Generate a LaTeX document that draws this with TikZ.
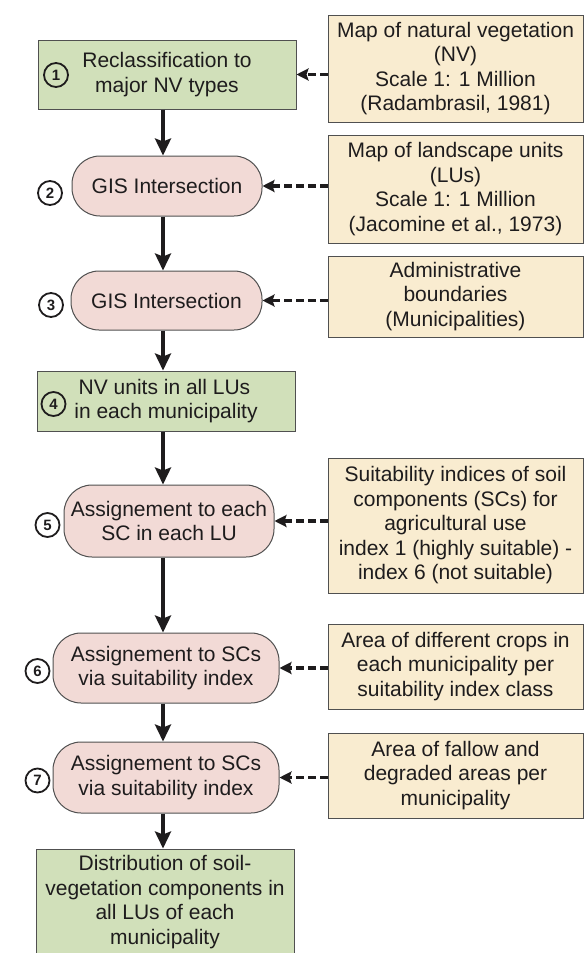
\documentclass[tikz,border=0pt]{standalone}
\usepackage{fontspec}
\setmainfont{Liberation Sans}
\usetikzlibrary{arrows.meta}

\definecolor{stepgreen}{RGB}{209,224,186}
\definecolor{steppink}{RGB}{242,218,214}
\definecolor{srcbeige}{RGB}{249,236,208}
\definecolor{edgegray}{RGB}{80,80,80}
\definecolor{ink}{RGB}{30,28,29}

\tikzset{
  base/.style={draw=edgegray, line width=1pt, text=ink,
    font=\fontsize{21}{24.5}\selectfont, align=center, inner sep=0pt},
  greenbox/.style={base, fill=stepgreen, rectangle},
  pinkbox/.style={base, fill=steppink, rounded corners=28pt},
  srcbox/.style={base, fill=srcbeige, minimum width=255pt},
  num/.style={circle, draw=ink, line width=1.8pt, minimum size=24pt, inner sep=0pt,
    font=\fontsize{15}{15}\selectfont\bfseries, text=ink},
  flow/.style={draw=ink, line width=4pt, -{Stealth[length=17pt,width=16pt,inset=3pt]}},
  feed/.style={draw=ink, line width=3.4pt, dash pattern=on 7.5pt off 4.5pt,
    -{Stealth[length=12pt,width=12pt,inset=2pt]}},
}

\begin{document}
\begin{tikzpicture}[x=1pt, y=-1pt]
\useasboundingbox (0,0) rectangle (584,953);

% processing chain (left column)
\node[greenbox, minimum width=258pt, minimum height=69pt] (n1) at (167,74.5)
  {Reclassification to\\major NV types};
\node[pinkbox, minimum width=190pt, minimum height=60pt] (n2) at (167,186)
  {GIS Intersection};
\node[pinkbox, minimum width=191pt, minimum height=59pt] (n3) at (166.5,300.5)
  {GIS Intersection};
\node[greenbox, minimum width=258pt, minimum height=60pt] (n4) at (166,401)
  {\hspace*{-3pt}NV units in all LUs\\in each municipality};
\node[pinkbox, minimum width=210pt, minimum height=72pt] (n5) at (169,521)
  {Assignement to each\\SC in each LU};
\node[pinkbox, minimum width=226pt, minimum height=70pt] (n6) at (166,668)
  {Assignement to SCs\\via suitability index};
\node[pinkbox, minimum width=226pt, minimum height=71pt] (n7) at (166,777.5)
  {Assignement to SCs\\via suitability index};
\node[greenbox, minimum width=258pt, minimum height=106pt] (n8) at (165,902)
  {Distribution of soil-\\vegetation components in\\all LUs of each\\municipality};

% step numbers
\node[num] (c1) at (56,75) {1};
\node[num] (c2) at (50,193) {2};
\node[num] (c3) at (51,305) {3};
\node[num] (c4) at (53.5,404) {4};
\node[num] (c5) at (47.5,525) {5};
\node[num] (c6) at (37.5,671) {6};
\node[num] (c7) at (37.5,780.5) {7};

% input data (right column)
\node[srcbox, minimum height=107pt] (r1) at (455.5,68.5)
  {Map of natural vegetation\\(NV)\\Scale 1: 1 Million\\(Radambrasil, 1981)};
\node[srcbox, minimum height=108pt] (r2) at (455.5,189)
  {Map of landscape units\\(LUs)\\Scale 1: 1 Million\\(Jacomine et al., 1973)};
\node[srcbox, minimum height=81pt] (r3) at (455.5,296.5)
  {Administrative\\boundaries\\(Municipalities)};
\node[srcbox, minimum height=135pt] (r4) at (455.5,525.5)
  {Suitability indices of soil\\components (SCs) for\\agricultural use\\index 1 (highly suitable) -\\index 6 (not suitable)};
\node[srcbox, minimum height=85pt] (r5) at (455.5,666.5)
  {Area of different crops in\\each municipality per\\suitability index class};
\node[srcbox, minimum height=85pt] (r6) at (455.5,775.5)
  {Area of fallow and\\degraded areas per\\municipality};

% main flow
\coordinate (spine) at (163,0);
\draw[flow] (n1.south -| spine) -- (n2.north -| spine);
\draw[flow] (n2.south -| spine) -- (n3.north -| spine);
\draw[flow] (n3.south -| spine) -- (n4.north -| spine);
\draw[flow] (n4.south -| spine) -- (n5.north -| spine);
\draw[flow] (n5.south -| spine) -- (n6.north -| spine);
\draw[flow] (n6.south -| spine) -- (n7.north -| spine);
\draw[flow] (n7.south -| spine) -- (n8.north -| spine);

% data inputs
\draw[feed] (r1.west |- n1.center) -- (n1.east);
\draw[feed] (r2.west |- n2.center) -- (n2.east);
\draw[feed] (r3.west |- n3.center) -- (n3.east);
\draw[feed] (r4.west |- n5.center) -- (n5.east);
\draw[feed] (r5.west |- n6.center) -- (n6.east);
\draw[feed] (r6.west |- n7.center) -- (n7.east);
\end{tikzpicture}
\end{document}
